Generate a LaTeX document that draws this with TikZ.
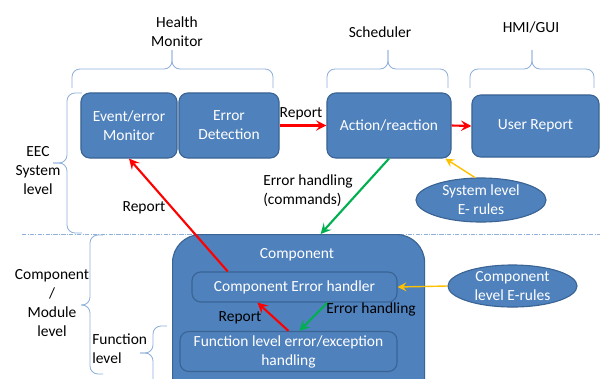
\documentclass[tikz,border=0pt]{standalone}
\usepackage{fontspec}
\setmainfont{Carlito}
\usetikzlibrary{arrows.meta,calc,shapes.geometric}
\definecolor{boxblue}{HTML}{4F81BD}
\definecolor{boxedge}{HTML}{3A6494}
\definecolor{bracecol}{HTML}{8EB0DA}
\definecolor{redarrow}{HTML}{FF0000}
\definecolor{greenarrow}{HTML}{00B050}
\definecolor{yellowarrow}{HTML}{FFC000}
\tikzset{
  txt/.style={font=\fontsize{11}{13.5}\selectfont, inner sep=0pt, align=center},
  box/.style={txt, draw=boxedge, fill=boxblue, line width=0.8pt, text=white, rounded corners=0.22cm},
  ebox/.style={txt, draw=boxedge, fill=boxblue, line width=0.8pt, text=white, ellipse},
  bracket/.style={draw=bracecol, line width=0.6pt, rounded corners=0.2cm},
  redline/.style={draw=redarrow, line width=1.5pt, -{Stealth[length=2.6mm,width=2.6mm,inset=1mm]}},
  greenline/.style={draw=greenarrow, line width=1.5pt, -{Stealth[length=2.6mm,width=2.6mm,inset=1mm]}},
  yellowline/.style={draw=yellowarrow, line width=1pt, -{Stealth[length=2.2mm,width=2.2mm,inset=0.8mm]}}
}
\begin{document}
\begin{tikzpicture}[x=0.025cm, y=-0.025cm]
    \useasboundingbox (0,0) rectangle (600,378);
    \clip (0,0) rectangle (600,378);

    % Group labels and braces at the top
    \node[txt] (hmlabel) at (177,31.5) {Health\\Monitor};
    \node[txt] (schedlabel) at (380,32) {Scheduler};
    \node[txt] (hmilabel) at (531,27) {HMI/GUI};
    \draw[bracket] (72,88) -- (72,69) -- (172,69) -- (172,50);
    \draw[bracket] (273,88) -- (273,69) -- (172,69) -- (172,50);
    \draw[bracket] (327,88) -- (327,69) -- (388,69) -- (388,50);
    \draw[bracket] (448,88) -- (448,69) -- (388,69) -- (388,50);
    \draw[bracket] (470,88) -- (470,69) -- (532,69) -- (532,50);
    \draw[bracket] (594,88) -- (594,69) -- (532,69) -- (532,50);

    % Level labels and braces on the left
    \node[txt] (eeclabel) at (38,171) {EEC\\System\\level};
    \node[txt] (modlabel) at (52,303.5) {Component\\/\\Module\\level};
    \node[txt, align=left, anchor=west] (funlabel) at (92,348.5) {Function\\level};
    \draw[bracket] (82,93) -- (67,93) -- (67,163) -- (53,163);
    \draw[bracket] (82,233) -- (67,233) -- (67,163) -- (53,163);
    \draw[bracket] (103,235) -- (90,235) -- (90,305) -- (81,305);
    \draw[bracket] (103,374) -- (90,374) -- (90,305) -- (81,305);
    \draw[bracket] (167,326) -- (153,326) -- (153,353) -- (140,353);
    \draw[bracket] (167,390) -- (153,390) -- (153,353) -- (140,353);

    % Border between the two levels
    \draw[bracecol, line width=0.6pt, densely dashdotted] (22,234) -- (600,234);

    % System level boxes
    \node[box, minimum width=2.4cm, minimum height=1.625cm] (mon) at (129,125.5) {Event/error\\Monitor};
    \node[box, minimum width=2.5cm, minimum height=1.625cm] (det) at (229,125.5) {Error\\Detection};
    \node[box, minimum width=3.1cm, minimum height=1.625cm] (act) at (389,125.5) {Action/reaction};
    \node[box, minimum width=3.175cm, minimum height=1.55cm] (usr) at (535.5,126) {User Report};
    \node[ebox, minimum width=3.25cm, minimum height=1.1cm] (sys) at (481,200) {System level\\E- rules};

    % Component level boxes
    \node[box, rounded corners=0.7cm, minimum width=6.3cm, minimum height=4.65cm, anchor=north west] (comp) at (172,234) {};
    \node[txt, text=white] (comptitle) at (297,255) {Component};
    \node[box, minimum width=5.125cm, minimum height=0.75cm] (ceh) at (294.5,287) {Component Error handler};
    \node[box, minimum width=5.425cm, minimum height=1.0cm] (fun) at (288.5,351.5) {Function level error/exception\\handling};
    \node[ebox, minimum width=3.225cm, minimum height=1.05cm] (cel) at (512.5,286) {Component\\level E-rules};

    % Connectors
    \draw[redline] (det.east) -- (act.west);
    \draw[redline] (act.east) -- (usr.west);
    \draw[greenline] (act.south) -- ($(comp.north west)!0.587!(comp.north east)$);
    \draw[yellowline] (sys.105) -- ($(act.south west)!0.95!(act.south east)$);
    \draw[redline] ($(ceh.north west)!0.176!(ceh.north east)$) -- (mon.south);
    \draw[yellowline] (cel.west) -- (ceh.east);
    \draw[greenline] ($(ceh.south west)!0.66!(ceh.south east)$) -- ($(fun.north west)!0.55!(fun.north east)$);
    \draw[redline] ($(fun.north west)!0.5!(fun.north east)$) -- ($(ceh.south west)!0.32!(ceh.south east)$);

    % Connector labels
    \node[txt] (replabel) at (301,114) {Report};
    \node[txt, align=left, anchor=west] (ehlabel) at (263,190.5) {Error handling\\(commands)};
    \node[txt] (rep2label) at (144,208) {Report};
    \node[txt] (eh2label) at (371,309) {Error handling};
    \node[txt] (rep3label) at (240,318) {Report};
\end{tikzpicture}
\end{document}
